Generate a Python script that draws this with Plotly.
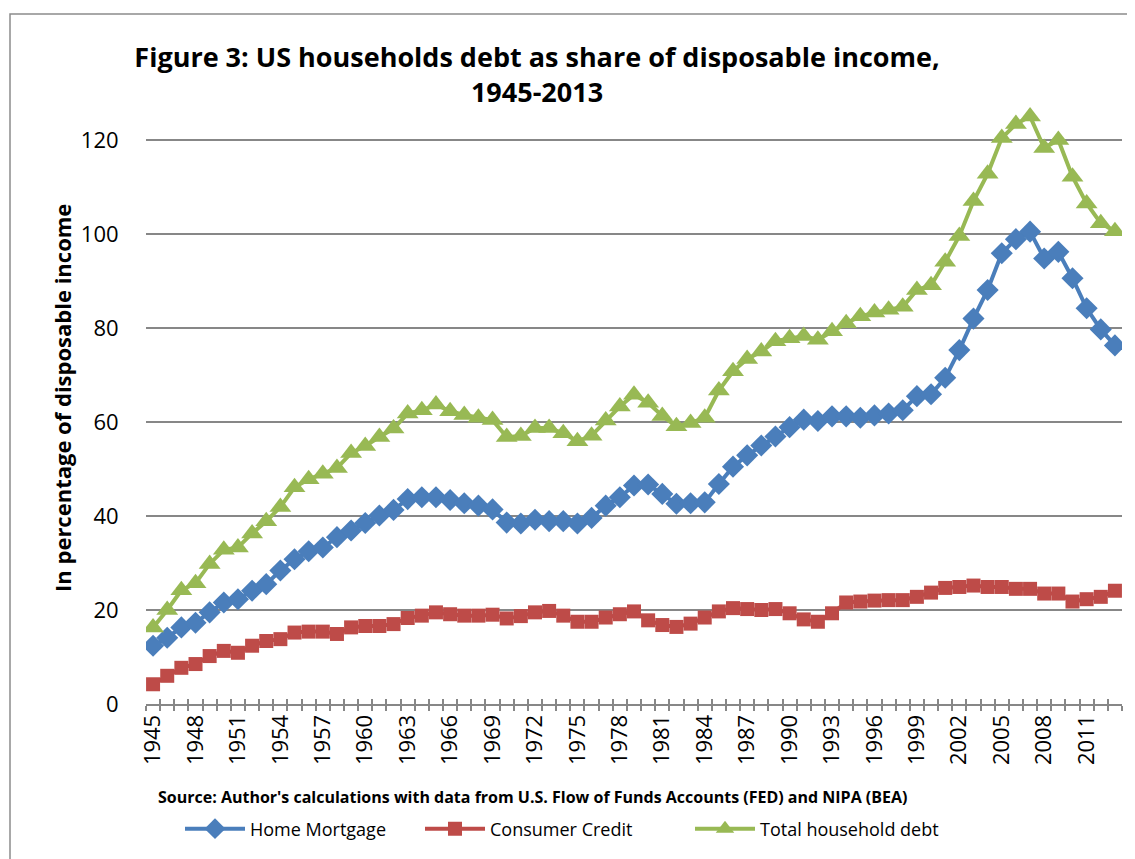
"""
US households debt as share of disposable income, 1945-2013.
"""

import plotly.graph_objects as go

years = list(range(1945, 2014))

home_mortgage = [
    12.4, 14.1, 16.3, 17.3, 19.5, 21.6, 22.3, 24.1, 25.5, 28.4,
    30.8, 32.5, 33.3, 35.5, 36.9, 38.5, 40.1, 41.3, 43.6, 44.0,
    44.0, 43.4, 42.7, 42.2, 41.4, 38.6, 38.4, 39.2, 38.9, 38.9,
    38.4, 39.6, 42.2, 44.0, 46.5, 46.7, 44.7, 42.6, 42.7, 42.9,
    46.8, 50.5, 52.9, 55.0, 56.9, 58.9, 60.5, 60.2, 61.2, 61.2,
    60.9, 61.4, 61.8, 62.5, 65.5, 65.9, 69.4, 75.3, 82.0, 88.1,
    95.9, 98.9, 100.5, 94.8, 96.2, 90.6, 84.2, 79.7, 76.3,
]

consumer_credit = [
    4.2, 6.0, 7.7, 8.5, 10.2, 11.3, 10.9, 12.4, 13.4, 13.8,
    15.2, 15.4, 15.4, 14.9, 16.3, 16.6, 16.6, 17.0, 18.3, 18.8,
    19.5, 19.1, 18.8, 18.8, 19.0, 18.2, 18.7, 19.5, 19.8, 18.8,
    17.5, 17.5, 18.4, 19.1, 19.7, 17.8, 16.8, 16.4, 17.1, 18.4,
    19.7, 20.4, 20.2, 20.0, 20.2, 19.3, 18.0, 17.5, 19.3, 21.6,
    21.8, 22.0, 22.1, 22.1, 22.8, 23.7, 24.7, 24.9, 25.2, 24.9,
    24.9, 24.5, 24.5, 23.5, 23.5, 21.8, 22.3, 22.8, 24.1,
]

total_household_debt = [
    16.3, 20.0, 24.2, 25.7, 29.8, 32.8, 33.3, 36.3, 38.9, 41.9,
    46.1, 47.8, 49.0, 50.2, 53.4, 54.9, 56.8, 58.6, 61.8, 62.5,
    63.7, 62.3, 61.5, 60.9, 60.4, 56.8, 57.0, 58.7, 58.7, 57.6,
    55.9, 57.1, 60.3, 63.3, 65.8, 64.1, 61.3, 59.1, 59.8, 60.9,
    66.7, 70.8, 73.4, 75.0, 77.2, 77.8, 78.3, 77.5, 79.3, 81.0,
    82.5, 83.3, 83.9, 84.5, 88.1, 89.1, 94.1, 99.6, 107.0, 112.8,
    120.4, 123.4, 125.0, 118.3, 120.0, 112.2, 106.5, 102.3, 100.6,
]

tick_years = list(range(1945, 2012, 3))
y_ticks = [0, 20, 40, 60, 80, 100, 120]

# (이름, 값, 색, 마커, 크기, 범례 id, 범례 시작 x(화면 px))
SERIES = [
    ("Home Mortgage", home_mortgage, "#4A7EBB", "diamond", 17, "legend", 180),
    ("Consumer Credit", consumer_credit, "#BE4B48", "square", 14, "legend2", 420),
    ("Total household debt", total_household_debt, "#98B954", "triangle-up", 19, "legend3", 690),
]

FONT = "Open Sans"
GRID = "#878787"

# 브라우저 body 기본 여백 8px 보정
OFF = 8
W, H = 1135 - OFF, 859 - OFF
# 원본 화면 좌표: plot 영역 x 146~1122, y 93~704
ML, MT = 146 - OFF, 93 - OFF
MR, MB = W - (1122 - OFF), H - (704 - OFF)
PW, PH = W - ML - MR, H - MT - MB


def px_x(px):
    return (px - OFF - ML) / PW


def px_y(py):
    return (H - MB - (py - OFF)) / PH


fig = go.Figure()

legends = {}
for name, values, color, symbol, size, leg, lx in SERIES:
    fig.add_trace(go.Scatter(
        x=years,
        y=values,
        name=name,
        mode="lines+markers",
        line=dict(color=color, width=4),
        marker=dict(symbol=symbol, size=size, color=color, line=dict(width=0)),
        legend=leg,
    ))
    legends[leg] = dict(
        orientation="h",
        x=px_x(lx),
        xanchor="left",
        y=px_y(829),
        yanchor="middle",
        font=dict(size=18),
        itemwidth=60,
        bgcolor="rgba(0,0,0,0)",
    )

# 축을 가로지르는 눈금 (Excel cross tick) 위쪽 절반용 보조 축
fig.add_trace(go.Scatter(x=[years[0]], y=[None], xaxis="x2", showlegend=False, hoverinfo="skip"))

fig.update_layout(
    width=W,
    height=H,
    margin=dict(l=ML, r=MR, t=MT, b=MB),
    paper_bgcolor="white",
    plot_bgcolor="white",
    font=dict(family=FONT, color="black"),
    title=dict(
        text="<b>Figure 3: US households debt as share of disposable income,<br>1945-2013</b>",
        x=(537 - OFF) / W,
        xanchor="center",
        y=1 - (67 - OFF) / H,
        yanchor="top",
        font=dict(size=27, family=FONT),
    ),
    xaxis=dict(
        range=[years[0] - 0.5, years[-1] + 0.5],
        tickvals=tick_years,
        ticktext=[str(y) for y in tick_years],
        tickangle=-90,
        tickfont=dict(size=22),
        ticks="",
        showgrid=False,
        zeroline=False,
        showline=True,
        linecolor=GRID,
        linewidth=2,
        minor=dict(ticks="outside", tick0=years[0] - 0.5, dtick=1, ticklen=5,
                   tickcolor=GRID, tickwidth=2),
    ),
    xaxis2=dict(
        overlaying="x",
        matches="x",
        side="bottom",
        anchor="y",
        tickmode="linear",
        tick0=years[0] - 0.5,
        dtick=1,
        ticks="inside",
        ticklen=5,
        tickcolor=GRID,
        tickwidth=2,
        showticklabels=False,
        showgrid=False,
        zeroline=False,
    ),
    yaxis=dict(
        range=[0, 130],
        tickvals=y_ticks,
        tickfont=dict(size=22),
        ticks="outside",
        ticklen=22,
        tickcolor="white",
        showgrid=True,
        gridcolor=GRID,
        gridwidth=1.5,
        zeroline=False,
        showline=False,
    ),
    annotations=[
        dict(
            text="<b>In percentage of disposable income</b>",
            xref="paper", yref="paper",
            x=px_x(62), y=px_y(398),
            xanchor="center", yanchor="middle",
            textangle=-90,
            showarrow=False,
            font=dict(size=22),
        ),
        dict(
            text="<b>Source: Author's calculations with data from U.S. Flow of Funds Accounts (FED) and NIPA (BEA)</b>",
            xref="paper", yref="paper",
            x=px_x(532), y=px_y(797),
            xanchor="center", yanchor="middle",
            showarrow=False,
            font=dict(size=16),
        ),
    ],
    shapes=[
        dict(
            type="rect",
            xref="paper", yref="paper",
            x0=px_x(10), y0=px_y(900), x1=px_x(1200), y1=px_y(14),
            line=dict(color="#8C8C8C", width=1.5),
            fillcolor="rgba(0,0,0,0)",
            layer="below",
        ),
    ],
    **legends,
)

fig.write_html("out.html")
